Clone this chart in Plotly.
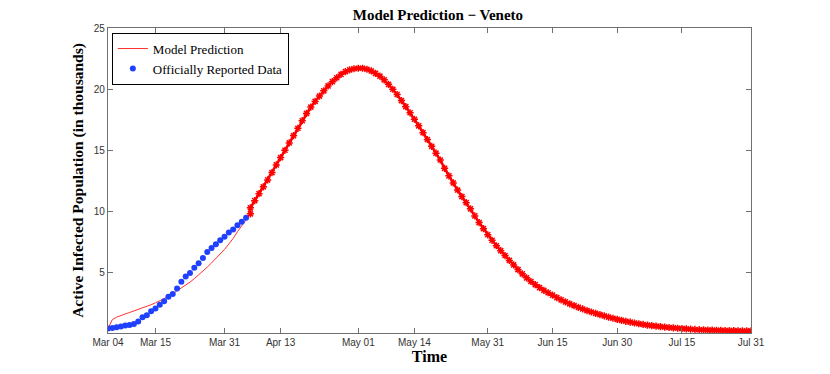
import pandas as pd
import plotly.graph_objects as go

# day 0 = 2020-03-04
start = pd.Timestamp("2020-03-04")

# officially reported active cases (thousands), days 0..32
reported = [0.36, 0.42, 0.47, 0.53, 0.61, 0.66, 0.74, 0.94, 1.29, 1.46, 1.79,
            2.01, 2.31, 2.61, 2.97, 3.19, 3.65, 4.20, 4.64, 4.92, 5.35, 5.71,
            6.15, 6.64, 6.97, 7.27, 7.60, 7.88, 8.23, 8.48, 8.84, 9.11, 9.44]

# model fit over the reported period, days 0..33
model_fit = [0.36, 1.10, 1.30, 1.45, 1.56, 1.68, 1.80, 1.93, 2.05, 2.18, 2.32,
             2.47, 2.63, 2.80, 3.00, 3.22, 3.45, 3.66, 3.90, 4.17, 4.45, 4.74,
             5.05, 5.40, 5.75, 6.10, 6.45, 6.85, 7.30, 7.75, 8.30, 8.80, 9.30,
             9.77]

# model forecast, days 33..149
forecast = [10.26, 10.85, 11.42, 11.98, 12.55, 13.15, 13.78, 14.38, 14.98,
            15.58, 16.18, 16.78, 17.40, 18.00, 18.52, 18.98, 19.42, 19.85,
            20.25, 20.60, 20.92, 21.20, 21.42, 21.57, 21.66, 21.70, 21.70,
            21.62, 21.48, 21.28, 21.05, 20.75, 20.38, 19.98, 19.55, 19.05,
            18.55, 18.05, 17.52, 16.98, 16.42, 15.86, 15.30, 14.74, 14.18,
            13.50, 12.88, 12.30, 11.72, 11.18, 10.68, 10.18, 9.60, 9.05, 8.55,
            8.05, 7.60, 7.15, 6.75, 6.35, 5.95, 5.58, 5.20, 4.85, 4.52, 4.22,
            3.96, 3.72, 3.50, 3.30, 3.10, 2.90, 2.72, 2.55, 2.39, 2.24, 2.10,
            1.97, 1.84, 1.72, 1.61, 1.50, 1.40, 1.30, 1.21, 1.12, 1.04, 0.96,
            0.89, 0.82, 0.76, 0.70, 0.65, 0.60, 0.56, 0.52, 0.48, 0.45, 0.42,
            0.39, 0.36, 0.34, 0.31, 0.29, 0.27, 0.26, 0.24, 0.23, 0.22, 0.21,
            0.20, 0.19, 0.19, 0.18, 0.18, 0.17, 0.17]

tick_dates = ["2020-03-04", "2020-03-15", "2020-03-31", "2020-04-13",
              "2020-05-01", "2020-05-14", "2020-05-31", "2020-06-15",
              "2020-06-30", "2020-07-15", "2020-07-31"]
tick_labels = ["Mar 04", "Mar 15", "Mar 31", "Apr 13", "May 01", "May 14",
               "May 31", "Jun 15", "Jun 30", "Jul 15", "Jul 31"]

d_rep = pd.date_range(start, periods=len(reported))
d_fit = pd.date_range(start, periods=len(model_fit))
d_fc = pd.date_range(start + pd.Timedelta(days=33), periods=len(forecast))

fig = go.Figure()
fig.add_trace(go.Scatter(
    x=d_fit, y=model_fit, mode="lines", name="Model Prediction",
    line=dict(color="#ff3030", width=1)))
fig.add_trace(go.Scatter(
    x=d_rep, y=reported, mode="markers", name="Officially Reported Data",
    marker=dict(color="#2040ff", size=6)))
fig.add_trace(go.Scatter(
    x=[d_fit[-1]] + list(d_fc), y=[model_fit[-1]] + forecast,
    mode="lines+markers", showlegend=False,
    line=dict(color="#ff0000", width=2.5),
    marker=dict(symbol="asterisk-open", size=6, color="#ff0000",
                line=dict(color="#ff0000", width=1.5))))

axis_common = dict(showgrid=False, zeroline=False, showline=True,
                   linecolor="#707070", linewidth=1.2, mirror="ticks",
                   ticks="inside", ticklen=5, tickcolor="#707070",
                   automargin=False,
                   tickfont=dict(family="Liberation Sans", size=10, color="#333"))

fig.update_layout(
    width=830, height=374,
    margin=dict(l=100, r=87, t=20, b=49),
    paper_bgcolor="white", plot_bgcolor="white",
    title=dict(text="<b>Model Prediction \u2212 Veneto</b>", x=0.518, xanchor="center",
               y=1, yanchor="top", pad=dict(t=1),
               font=dict(family="Liberation Serif", size=15, color="black")),
    xaxis=dict(range=["2020-03-04", "2020-07-31"], tickvals=tick_dates,
               ticktext=tick_labels,
               title=dict(text="<b>Time</b>", standoff=2,
                          font=dict(family="Liberation Serif", size=16, color="black")),
               **axis_common),
    yaxis=dict(range=[0, 25], tickvals=[5, 10, 15, 20, 25],
               title=dict(text="<b>Active Infected Population (in thousands)</b>", standoff=6,
                          font=dict(family="Liberation Serif", size=15.5, color="black")),
               **axis_common),
    legend=dict(x=0.006, y=0.985, xanchor="left", yanchor="top",
                bgcolor="white", bordercolor="black", borderwidth=1,
                font=dict(family="Liberation Serif", size=13, color="black"),
                tracegroupgap=0, itemwidth=30),
    showlegend=True,
)

fig.write_html("out.html")
